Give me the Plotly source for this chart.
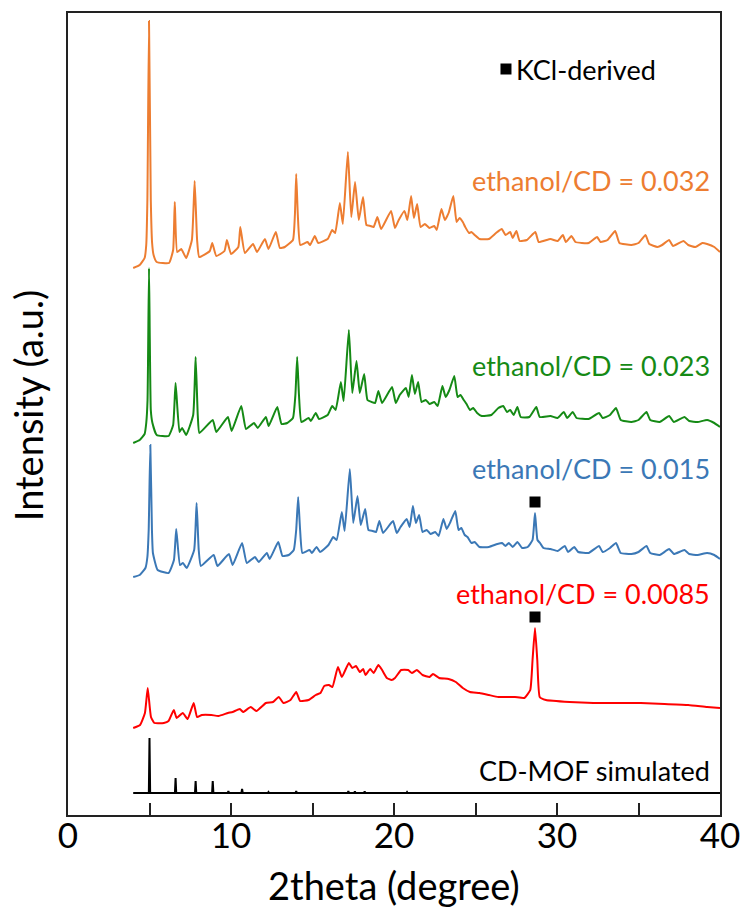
import plotly.graph_objects as go

# ---------------- data (2theta in degree, intensity in a.u.) ----------------
orange_x = [4.0, 4.4, 4.7, 4.8, 4.87, 4.97, 5.08, 5.16, 5.25, 5.44, 6.2, 6.45, 6.55, 6.7, 6.95, 7.25, 7.6, 7.77, 7.92, 8.05,
            8.7, 8.85, 9.1, 9.6, 9.75, 10.0, 10.45, 10.57, 10.85, 11.35, 11.6, 12.08, 12.3, 12.75, 13.0, 13.3, 13.8,
            13.92, 14.0, 14.1, 14.25, 14.7, 14.85, 15.14, 15.35, 15.93, 16.21, 16.39, 16.68, 16.86, 17.17, 17.38,
            17.61, 17.84, 18.1, 18.31, 18.55, 18.75, 18.98, 19.21, 19.82, 20.06, 20.29, 20.64, 20.82, 21.05, 21.22,
            21.42, 21.63, 21.89, 22.18, 22.47, 22.62, 22.91, 23.12, 23.35, 23.64, 23.84, 24.02, 24.22, 24.37, 24.6,
            24.75, 24.95, 25.24, 25.82, 26.26, 26.61, 26.84, 27.13, 27.28, 27.51, 27.71, 28.15, 28.67, 28.88, 29.6,
            30.04, 30.36, 30.54, 30.89, 31.13, 31.94, 32.46, 32.67, 33.1, 33.57, 33.83, 34.56, 35.0, 35.43, 35.66,
            36.16, 36.45, 36.88, 37.12, 37.76, 38.05, 38.49, 38.92, 39.21, 39.65, 40.0]
orange_y = [7, 10, 17, 30, 75, 254, 75, 32, 20, 13, 12, 25, 73, 23, 26, 17, 35, 94, 35, 18,
            24, 32, 19, 24, 35, 21, 28, 48, 22, 31, 23, 36, 26, 43, 27, 28, 35,
            60, 101, 60, 30, 33, 30, 39, 32, 36, 45, 42, 72, 51, 123, 58,
            93, 55, 78, 50, 49, 48, 58, 46, 64, 47, 55, 64, 55, 79, 57,
            71, 48, 51, 47, 49, 45, 66, 55, 62, 79, 53, 57, 53, 48, 42,
            43, 40, 36, 36, 42, 46, 40, 43, 37, 44, 34, 35, 43, 33, 36,
            34, 40, 33, 39, 33, 32, 38, 33, 35, 44, 32, 30, 32, 40, 31,
            28, 30, 35, 29, 34, 30, 28, 32, 31, 28, 23]

green_x = [4.0, 4.4, 4.7, 4.8, 4.88, 4.97, 5.08, 5.18, 5.44, 6.17, 6.45, 6.6, 6.84, 7.0, 7.25, 7.68, 7.83, 7.96, 8.06,
           8.88, 9.1, 9.81, 10.04, 10.63, 10.92, 11.41, 11.64, 12.14, 12.31, 12.84, 13.1, 13.45, 13.8, 13.95, 14.06,
           14.17, 14.32, 14.76, 14.9, 15.2, 15.4, 15.93, 16.21, 16.42, 16.74, 16.91, 17.23, 17.44, 17.7, 17.9,
           18.17, 18.37, 18.63, 18.84, 19.04, 19.27, 19.88, 20.11, 20.35, 20.73, 20.9, 21.1, 21.28, 21.48, 21.69,
           21.95, 22.18, 22.47, 22.68, 22.97, 23.17, 23.4, 23.7, 23.9, 24.08, 24.28, 24.45, 24.66, 24.86, 25.1,
           25.38, 25.97, 26.4, 26.7, 26.93, 27.13, 27.34, 27.57, 27.77, 28.3, 28.73, 28.94, 29.6, 30.04, 30.42,
           30.62, 30.97, 31.2, 31.94, 32.58, 32.8, 33.25, 33.62, 33.91, 34.56, 35.0, 35.49, 35.72, 36.3, 36.88,
           37.17, 37.82, 38.11, 38.63, 39.21, 39.65, 40.0]
green_y = [7, 10, 16, 27, 50, 182, 40, 27, 15, 14, 25, 67, 18, 22, 15, 35, 93, 35, 17,
           30, 18, 33, 19, 44, 21, 27, 22, 33, 24, 43, 26, 27, 32, 55, 93,
           55, 28, 32, 29, 37, 31, 35, 44, 40, 68, 49, 120, 57, 89, 57,
           76, 50, 48, 47, 59, 47, 63, 47, 55, 62, 53, 75, 56, 68, 48,
           50, 46, 48, 44, 64, 53, 60, 74, 53, 55, 50, 46, 40, 42, 37,
           34, 35, 42, 44, 38, 40, 35, 43, 33, 33, 43, 33, 34, 32, 38,
           32, 38, 32, 31, 37, 32, 35, 42, 30, 28, 30, 38, 30, 28, 34,
           28, 33, 29, 28, 30, 27, 23]

blue_x = [4.0, 4.4, 4.75, 4.87, 4.95, 5.05, 5.15, 5.21, 5.5, 6.17, 6.5, 6.64, 6.87, 7.05, 7.28, 7.74, 7.89, 8.02, 8.15,
          8.94, 9.17, 9.87, 10.1, 10.68, 10.97, 11.47, 11.7, 12.2, 12.37, 12.9, 13.16, 13.54, 13.85, 14.0, 14.12,
          14.24, 14.38, 14.82, 14.96, 15.25, 15.46, 15.98, 16.27, 16.48, 16.8, 16.97, 17.29, 17.5, 17.76, 17.96,
          18.23, 18.43, 18.69, 18.9, 19.1, 19.33, 19.94, 20.17, 20.4, 20.78, 20.96, 21.16, 21.34, 21.54, 21.75,
          22.01, 22.24, 22.53, 22.74, 23.03, 23.23, 23.46, 23.76, 23.96, 24.13, 24.34, 24.51, 24.75, 24.95, 25.24,
          25.82, 26.34, 26.63, 26.84, 27.04, 27.28, 27.57, 27.86, 28.2, 28.5, 28.65, 28.8, 28.96, 29.17, 29.6,
          30.04, 30.48, 30.68, 31.06, 31.3, 31.94, 32.58, 32.8, 33.25, 33.62, 33.91, 34.56, 35.0, 35.49, 35.72,
          36.3, 36.88, 37.17, 37.82, 38.11, 38.63, 39.21, 39.65, 40.0]
blue_y = [8, 10, 17, 28, 55, 140, 55, 32, 15, 12, 25, 56, 20, 22, 17, 35, 82, 35, 19,
          30, 19, 31, 20, 42, 22, 28, 23, 32, 26, 43, 29, 30, 35, 55, 88,
          55, 32, 35, 32, 38, 33, 40, 48, 45, 73, 54, 116, 62, 89, 60,
          76, 55, 54, 53, 64, 52, 64, 52, 58, 66, 58, 79, 62, 70, 53,
          55, 51, 53, 49, 66, 56, 63, 74, 55, 57, 50, 48, 42, 43, 38,
          38, 41, 42, 39, 42, 38, 43, 37, 38, 45, 72, 45, 42, 37, 36,
          34, 39, 33, 38, 33, 32, 39, 33, 37, 42, 32, 31, 33, 39, 32,
          30, 36, 31, 35, 31, 30, 32, 30, 26]

red_x = [4.0, 4.42, 4.72, 4.89, 5.09, 5.3, 5.88, 6.17, 6.49, 6.67, 7.04, 7.34, 7.71, 7.92, 8.21, 8.79, 9.23, 9.81,
         10.1, 10.54, 10.74, 11.21, 11.56, 12.14, 12.58, 12.93, 13.22, 13.65, 14.0, 14.24, 14.76, 15.2, 15.49,
         15.72, 16.01, 16.22, 16.56, 16.8, 17.23, 17.44, 17.67, 17.9, 18.11, 18.25, 18.54, 18.75, 19.04, 19.27,
         19.56, 19.85, 20.06, 20.44, 20.87, 21.1, 21.4, 21.75, 22.18, 22.39, 22.77, 23.35, 23.79, 24.22, 24.66,
         25.24, 25.82, 26.4, 26.99, 27.42, 28.0, 28.36, 28.5, 28.65, 28.79, 28.94, 29.32, 30.77, 32.23, 33.68,
         35.14, 36.6, 38.05, 39.21, 40.0]
red_y = [7, 10, 22, 47, 18, 12, 12, 14, 25, 17, 22, 16, 32, 18, 20, 20, 19, 22,
         23, 26, 23, 28, 24, 32, 33, 38, 32, 35, 43, 34, 35, 40, 42,
         49, 50, 48, 68, 58, 72, 67, 69, 63, 66, 60, 66, 62, 70, 65,
         57, 55, 57, 65, 65, 62, 65, 60, 58, 61, 57, 56, 53, 47, 43,
         42, 40, 38, 38, 38, 37, 45, 75, 107, 75, 38, 35, 33, 32, 32,
         32, 31, 30, 28, 27]

sim_pos = [5.0, 6.6, 7.83, 8.88, 9.84, 10.68, 12.3, 14.0, 17.2, 17.6, 18.2, 20.8]
sim_int = [55, 15, 12, 12, 2, 4, 1, 2, 2, 1.5, 1.5, 1]

offsets = {"orange": 540, "green": 365, "blue": 230, "red": 80, "sim": 22}
kcl_peak = 28.65
labels = ["ethanol/CD = 0.032", "ethanol/CD = 0.023", "ethanol/CD = 0.015", "ethanol/CD = 0.0085", "CD-MOF simulated"]

# ---------------- figure ----------------
FONT = "Lato, 'Open Sans', sans-serif"
c_orange, c_green, c_blue, c_red = "#ED7D31", "#158A15", "#3B78B6", "#FF0000"

fig = go.Figure()

def add_line(xs, ys, off, color, width=2, shape="spline"):
    fig.add_trace(go.Scatter(x=xs, y=[v + off for v in ys], mode="lines",
                             line=dict(color=color, width=width, shape=shape, smoothing=0.4),
                             showlegend=False, hoverinfo="skip"))

add_line(orange_x, orange_y, offsets["orange"], c_orange)
add_line(green_x, green_y, offsets["green"], c_green)
add_line(blue_x, blue_y, offsets["blue"], c_blue)
add_line(red_x, red_y, offsets["red"], c_red)

# simulated stick pattern
sx, sy = [4.0], [0]
for p, h in zip(sim_pos, sim_int):
    sx += [p - 0.04, p, p + 0.04]
    sy += [0, h, 0]
sx.append(40.0)
sy.append(0)
add_line(sx, sy, offsets["sim"], "black", 2, "linear")

# KCl markers
fig.add_trace(go.Scatter(x=[kcl_peak, kcl_peak, 26.87], y=[313, 198, 746], mode="markers",
                         marker=dict(symbol="square", size=11, color="black"),
                         showlegend=False, hoverinfo="skip"))

anns = [
    dict(text="KCl-derived", x=27.35, y=746, xanchor="left", color="black"),
    dict(text=labels[0], x=39.5, y=635, xanchor="right", color=c_orange),
    dict(text=labels[1], x=39.5, y=450, xanchor="right", color=c_green),
    dict(text=labels[2], x=39.5, y=347, xanchor="right", color=c_blue),
    dict(text=labels[3], x=39.5, y=222, xanchor="right", color=c_red),
    dict(text=labels[4], x=39.5, y=45, xanchor="right", color="black"),
]
for a in anns:
    fig.add_annotation(x=a["x"], y=a["y"], text=a["text"], xanchor=a["xanchor"], yanchor="middle",
                       showarrow=False, font=dict(family=FONT, size=27, color=a["color"]))

# axis titles
fig.add_annotation(xref="paper", yref="paper", x=0.5, y=-0.087, text="2theta (degree)",
                   xanchor="center", yanchor="middle", showarrow=False,
                   font=dict(family=FONT, size=38, color="black"))
fig.add_annotation(xref="paper", yref="paper", x=-0.061, y=0.51, text="Intensity (a.u.)",
                   textangle=-90, xanchor="center", yanchor="middle", showarrow=False,
                   font=dict(family=FONT, size=38, color="black"))

fig.update_layout(
    width=745, height=911,
    margin=dict(l=68, r=25, t=13, b=96),
    paper_bgcolor="white", plot_bgcolor="white",
    font=dict(family=FONT, color="black"),
    xaxis=dict(range=[0, 40], tickvals=[0, 5, 10, 15, 20, 25, 30, 35, 40],
               ticktext=["0", "", "10", "", "20", "", "30", "", "40"],
               ticks="inside", ticklen=12, tickwidth=2, tickcolor="#222",
               showline=True, linewidth=2, linecolor="#222", mirror=True,
               showgrid=False, zeroline=False, automargin=False,
               ticklabelstandoff=-11,
               tickfont=dict(family=FONT, size=35)),
    yaxis=dict(range=[0, 802], showticklabels=False, ticks="",
               showline=True, linewidth=2, linecolor="#222", mirror=True,
               showgrid=False, zeroline=False, automargin=False),
)

fig.write_html("out.html", config={"displayModeBar": False},
               post_script="document.body.style.margin='0';document.body.style.overflow='hidden';")
